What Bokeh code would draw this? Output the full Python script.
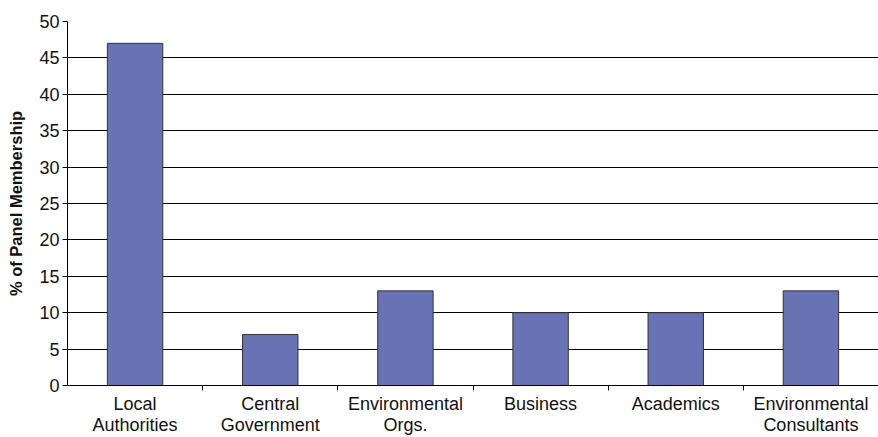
from bokeh.plotting import figure
from bokeh.models import FixedTicker, ColumnDataSource, Range1d
from bokeh.embed import file_html
from bokeh.resources import INLINE

categories = ["Local\nAuthorities", "Central\nGovernment", "Environmental\nOrgs.",
              "Business", "Academics", "Environmental\nConsultants"]
values = [47, 7, 13, 10, 10, 13]
y_ticks = [0, 5, 10, 15, 20, 25, 30, 35, 40, 45, 50]

xs = [i + 0.5 for i in range(len(categories))]
src = ColumnDataSource(dict(x=xs, top=values))

p = figure(width=878, height=437, output_backend="svg", toolbar_location=None,
           x_range=Range1d(0, len(categories)), y_range=Range1d(0, 50),
           min_border_left=67, min_border_right=0, min_border_top=21, min_border_bottom=52,
           x_axis_location="below")
p.outline_line_color = None
p.background_fill_color = "white"
p.border_fill_color = "white"

p.vbar(x="x", top="top", width=0.41, source=src, fill_color="#6873b6",
       line_color="#333333", line_width=1)

FONT = "Liberation Sans"

# y axis
ya = p.yaxis[0]
ya.ticker = FixedTicker(ticks=y_ticks)
ya.axis_label = "% of Panel Membership"
ya.axis_label_text_font = FONT
ya.axis_label_text_font_style = "bold"
ya.axis_label_text_font_size = "16.5px"
ya.axis_label_text_color = "#111111"
ya.axis_label_standoff = 11
ya.major_label_text_font = FONT
ya.major_label_text_font_size = "18px"
ya.major_label_text_color = "#111111"
ya.major_tick_out = 5
ya.major_tick_in = 0
ya.minor_tick_out = 0
ya.minor_tick_in = 0
ya.major_label_standoff = 3
ya.axis_line_color = "black"
ya.major_tick_line_color = "black"

# x axis
xa = p.xaxis[0]
xa.ticker = FixedTicker(ticks=xs, minor_ticks=[1, 2, 3, 4, 5])
xa.major_label_overrides = {x: c for x, c in zip(xs, categories)}
xa.major_label_text_font = FONT
xa.major_label_text_font_size = "18px"
xa.major_label_text_color = "#111111"
xa.major_label_text_line_height = 1.05
xa.major_tick_out = 0
xa.major_tick_in = 0
xa.minor_tick_out = 5
xa.minor_tick_in = 0
xa.minor_tick_line_color = "black"
xa.major_label_standoff = 3
xa.axis_line_color = "black"

p.xgrid.grid_line_color = None
p.ygrid.ticker = FixedTicker(ticks=y_ticks)
p.ygrid.grid_line_color = "black"
p.ygrid.grid_line_width = 1
p.ygrid.grid_line_alpha = 1

open("out.html", "w").write(file_html(p, INLINE))
